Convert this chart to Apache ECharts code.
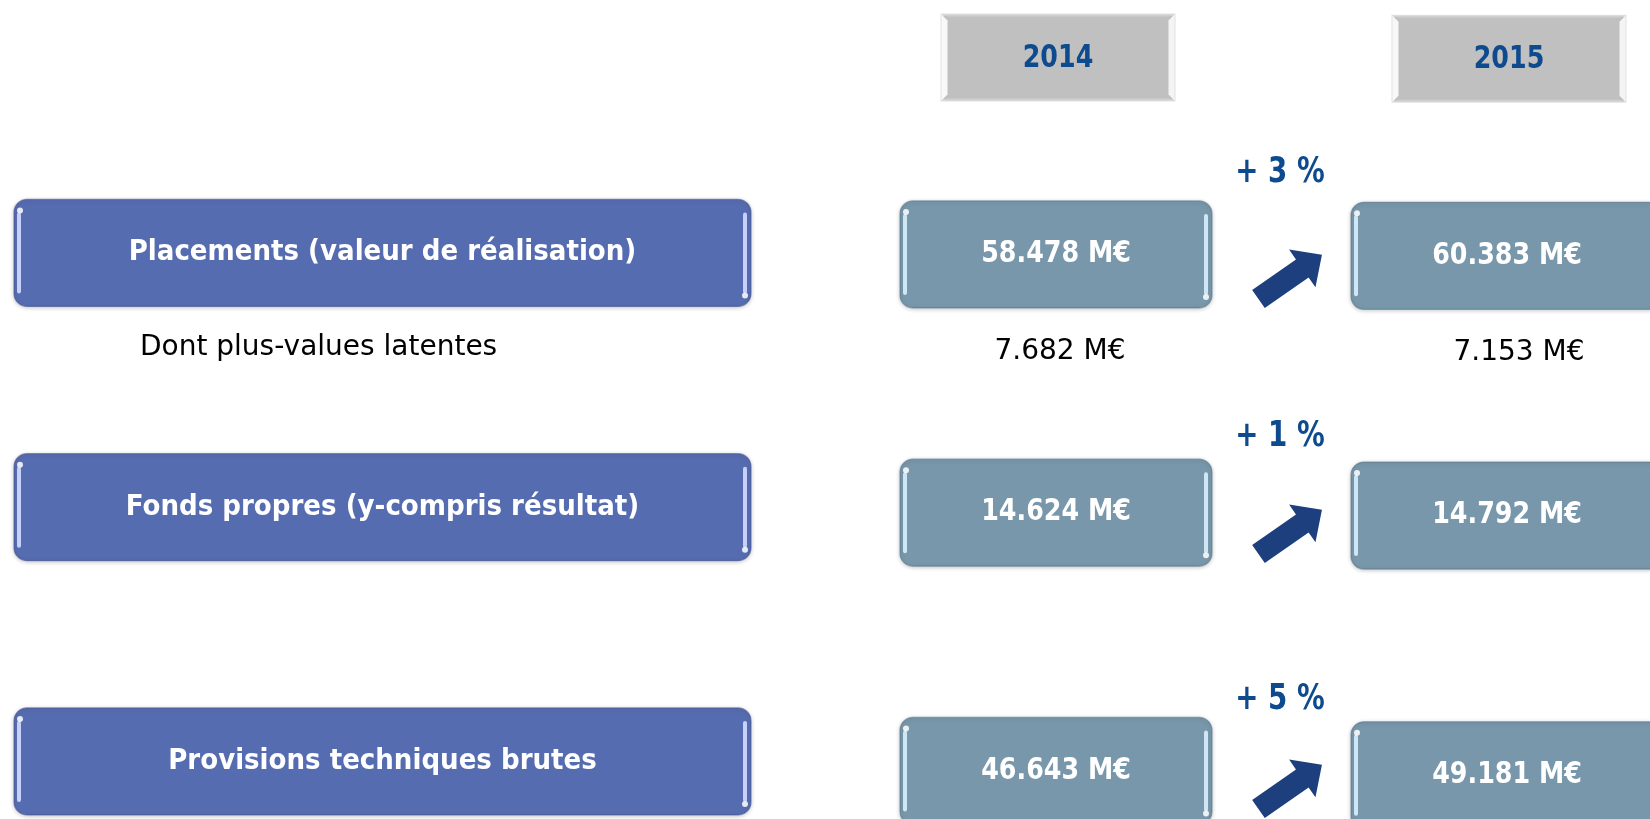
<!DOCTYPE html>
<html><head><meta charset="utf-8">
<script src="https://cdn.jsdelivr.net/npm/echarts@6/dist/echarts.min.js"></script>
<style>html,body{margin:0;padding:0;background:#fff}#c{width:1650px;height:819px}</style>
</head><body><div id="c"></div>
<script>
// ---- data ----
const rows = ['Placements (valeur de réalisation)', 'Fonds propres (y-compris résultat)', 'Provisions techniques brutes'];
const years = ['2014', '2015'];
const values2014 = [58478, 14624, 46643];
const values2015 = [60383, 14792, 49181];
const growth = ['+ 3 %', '+ 1 %', '+ 5 %'];
const latentLabel = ['Dont plus-values latentes', '', ''];
const latent2014 = [7682, null, null];
const latent2015 = [7153, null, null];

// ---- helpers ----
const FONT_B = '"DejaVu Sans Condensed", "DejaVu Sans", sans-serif';
const FONT_R = '"DejaVu Sans", sans-serif';
const fmt = v => (v == null ? '' : String(v).replace(/\B(?=(\d{3})+(?!\d))/g, '.') + ' M€');
const BOX_H = 107;

function txt(text, x, y, font, fill, align, sx) {
  return {
    type: 'text', x, y, scaleX: sx || 1,
    style: { text, x: 0, y: 0, font, fill, align: align || 'center', textAlign: align || 'center', verticalAlign: 'middle', textVerticalAlign: 'middle' }
  };
}

function boxGroup(x, y, w, h, fill, glow, stroke) {
  return [
    { type: 'rect', shape: { x, y, width: w, height: h, r: 13 }, style: { fill, stroke, lineWidth: 1.2, shadowBlur: 4, shadowColor: 'rgba(0,0,0,0.22)', shadowOffsetY: 1 } },
    { type: 'rect', shape: { x: x + 3, y: y + 13, width: 4, height: h - 26, r: 2 }, style: { fill: glow } },
    { type: 'rect', shape: { x: x + w - 8, y: y + 13, width: 4, height: h - 26, r: 2 }, style: { fill: glow } },
    { type: 'circle', shape: { cx: x + 6, cy: y + 11, r: 3 }, style: { fill: '#fff', opacity: 0.85 } },
    { type: 'circle', shape: { cx: x + w - 6, cy: y + h - 11, r: 3 }, style: { fill: '#fff', opacity: 0.85 } }
  ];
}

function headerGroup(cx, cy, text) {
  const w = 233, h = 86, x = cx - w / 2, y = cy - h / 2, b = 6;
  return [
    { type: 'rect', shape: { x, y, width: w, height: h }, style: { fill: '#C0C0C0', stroke: '#E2E2E2', lineWidth: 2 } },
    { type: 'polygon', shape: { points: [[x, y], [x + w, y], [x + w - b, y + 2], [x + b, y + 2]] }, style: { fill: '#CFCFCF' } },
    { type: 'polygon', shape: { points: [[x, y + h], [x + w, y + h], [x + w - b, y + h - 2], [x + b, y + h - 2]] }, style: { fill: '#CFCFCF' } },
    { type: 'polygon', shape: { points: [[x, y], [x + b, y + b], [x + b, y + h - b], [x, y + h]] }, style: { fill: '#F8F8F8' } },
    { type: 'polygon', shape: { points: [[x + w, y], [x + w - b, y + b], [x + w - b, y + h - b], [x + w, y + h]] }, style: { fill: '#F4F4F4' } },
    txt(text, cx, cy + 1, 'bold 32px ' + FONT_B, '#0E4A8E', 'center', 0.88)
  ];
}

function valueSeries(gi, vals, subs, year, subDx) {
  return {
    type: 'custom', xAxisIndex: gi, yAxisIndex: gi, clip: false,
    data: vals.map((v, i) => [0, i]),
    renderItem(params, api) {
      const i = params.dataIndex;
      const c = api.coord([0, i]);
      const w = api.size([1, 0])[0];
      const x = c[0] - w / 2, y = c[1] - BOX_H / 2;
      const ch = boxGroup(x, y, w, BOX_H, '#7897AB', '#CFE6F4', 'rgba(90,120,140,0.6)');
      ch.push(txt(fmt(vals[i]), c[0], c[1], 'bold 30px ' + FONT_B, '#FFFFFF', 'center', 0.94));
      if (subs[i] != null) ch.push(txt(fmt(subs[i]), c[0] + subDx, c[1] + 97, '28px ' + FONT_R, '#000000'));
      if (i === 0) ch.push.apply(ch, headerGroup(c[0] + 2, c[1] - 197, year));
      return { type: 'group', children: ch };
    }
  };
}

const labelSeries = {
  type: 'custom', xAxisIndex: 0, yAxisIndex: 0, clip: false,
  data: rows.map((r, i) => [0, i]),
  renderItem(params, api) {
    const i = params.dataIndex;
    const c = api.coord([0, i]);
    const w = api.size([1, 0])[0];
    const x = c[0] - w / 2, y = c[1] - BOX_H / 2;
    const ch = boxGroup(x, y, w, BOX_H, '#566CB0', '#C6D0FA', 'rgba(70,85,150,0.6)');
    ch.push(txt(rows[i], c[0], c[1], 'bold 29px ' + FONT_B, '#FFFFFF'));
    if (latentLabel[i]) ch.push(txt(latentLabel[i], x + 126, c[1] + 95, '28px ' + FONT_R, '#000000', 'left'));
    return { type: 'group', children: ch };
  }
};

const arrowSeries = {
  type: 'custom', xAxisIndex: 2, yAxisIndex: 2, clip: false,
  data: growth.map((g, i) => [0, i]),
  renderItem(params, api) {
    const c = api.coord([0, params.dataIndex]);
    const pts = [[-38.5, -11], [15, -11], [15, -23], [39, 0], [15, 23], [15, 11], [-38.5, 11]];
    return { type: 'polygon', x: c[0], y: c[1], rotation: 35 * Math.PI / 180, shape: { points: pts }, style: { fill: '#1E3F7E' } };
  }
};

const growthSeries = {
  type: 'custom', xAxisIndex: 4, yAxisIndex: 4, clip: false,
  data: growth.map((g, i) => [0, i]),
  renderItem(params, api) {
    const c = api.coord([0, params.dataIndex]);
    return txt(growth[params.dataIndex], c[0], c[1], 'bold 35px ' + FONT_B, '#0E4A8E', 'center', 0.88);
  }
};

// grids: one per column; rows on category axes
const gridBase = { outerBoundsMode: 'none', containLabel: false };
const grids = [
  Object.assign({ left: 14, width: 737, top: 125.8, height: 762.75 }, gridBase),
  Object.assign({ left: 900, width: 312, top: 125.3, height: 774.75 }, gridBase),
  Object.assign({ left: 1235, width: 110, top: 149.5, height: 765 }, gridBase),
  Object.assign({ left: 1351, width: 312, top: 125.9, height: 779.25 }, gridBase),
  Object.assign({ left: 1230, width: 100, top: 41.25, height: 790.5 }, gridBase)
];
const hidden = { axisLine: { show: false }, axisTick: { show: false }, axisLabel: { show: false }, splitLine: { show: false } };

const option = {
  backgroundColor: '#FFFFFF',
  animation: false,
  grid: grids,
  xAxis: [
    Object.assign({ gridIndex: 0, type: 'category', data: ['libellé'] }, hidden),
    Object.assign({ gridIndex: 1, type: 'category', data: [years[0]] }, hidden),
    Object.assign({ gridIndex: 2, type: 'category', data: ['évolution'] }, hidden),
    Object.assign({ gridIndex: 3, type: 'category', data: [years[1]] }, hidden),
    Object.assign({ gridIndex: 4, type: 'category', data: ['variation'] }, hidden)
  ],
  yAxis: [0, 1, 2, 3, 4].map(g => Object.assign({ gridIndex: g, type: 'category', data: rows, inverse: true }, hidden)),
  series: [
    labelSeries,
    valueSeries(1, values2014, latent2014, years[0], 4),
    arrowSeries,
    valueSeries(3, values2015, latent2015, years[1], 12),
    growthSeries
  ]
};

const chart = echarts.init(document.getElementById('c'));
chart.setOption(option);
</script>
</body></html>
